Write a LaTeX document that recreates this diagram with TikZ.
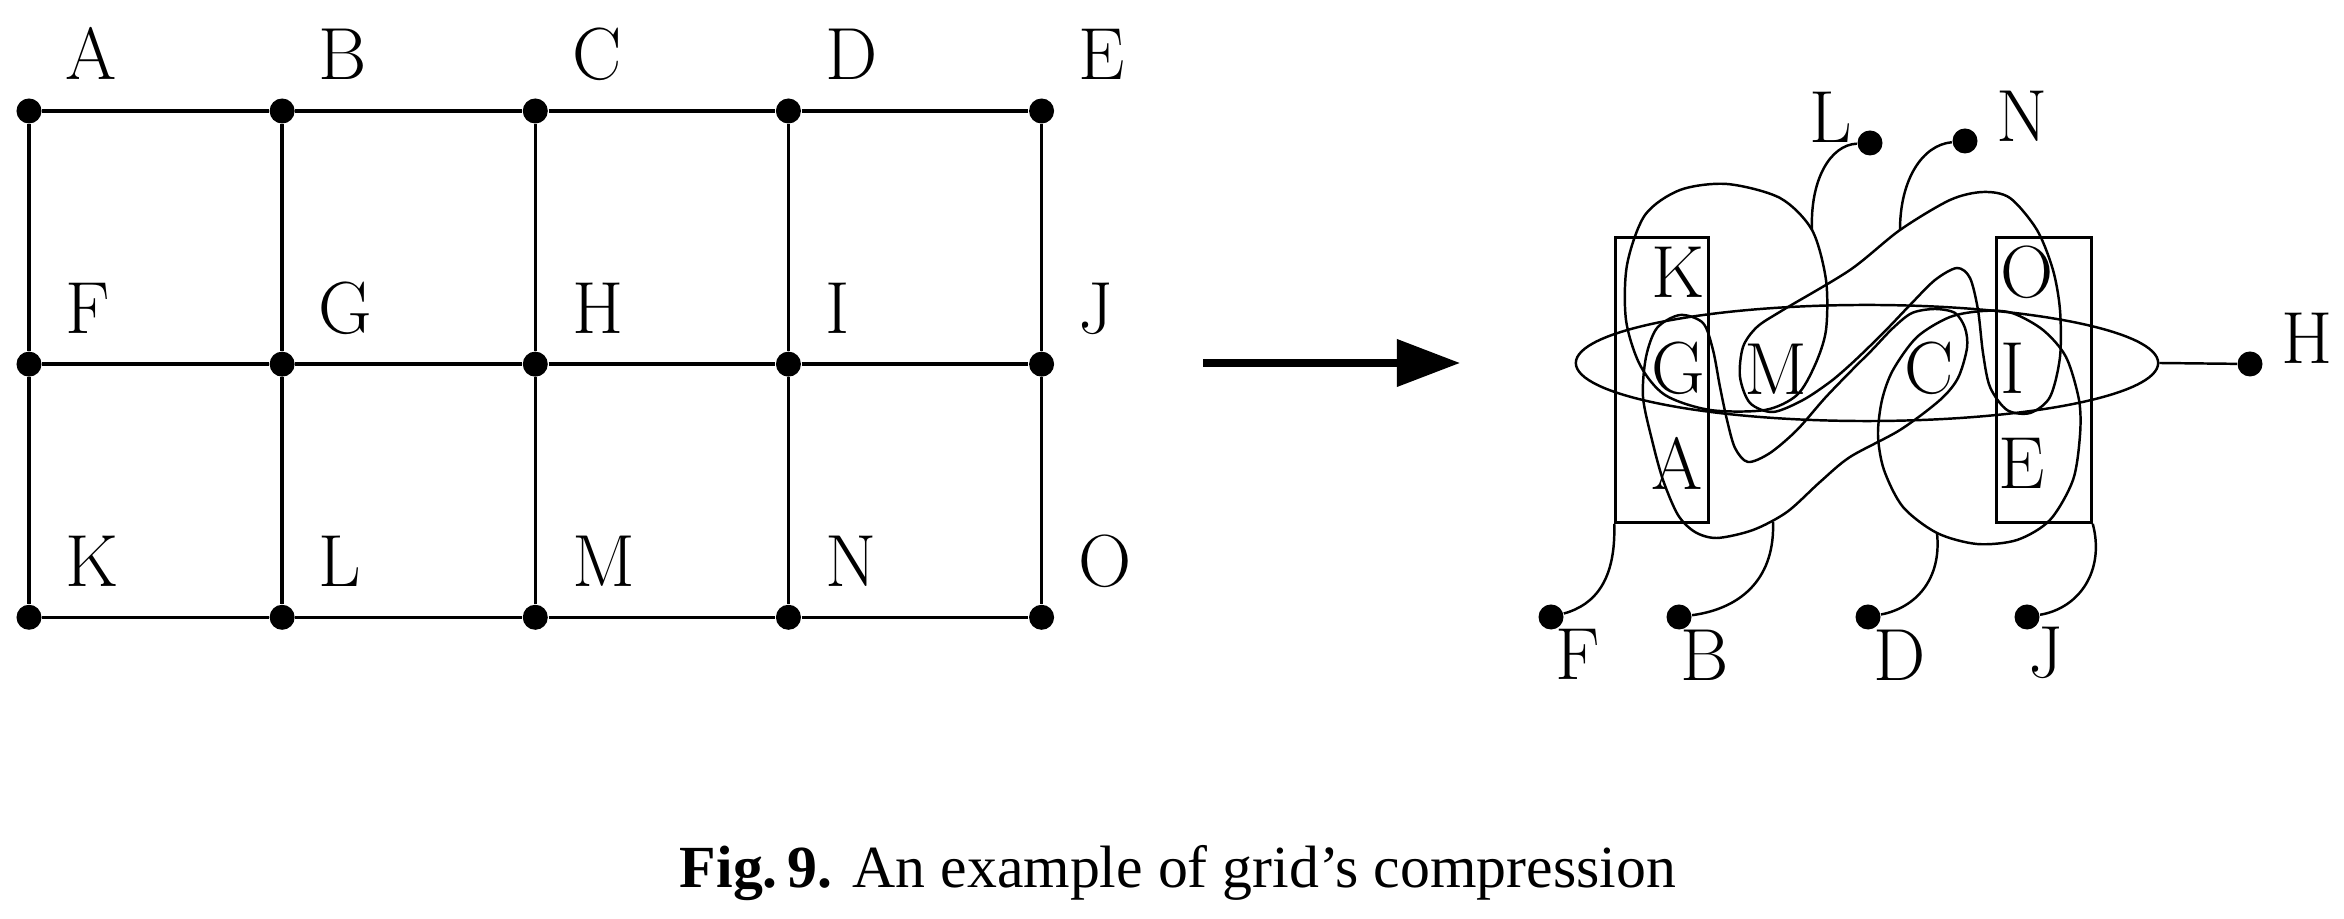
\documentclass[tikz,border=0pt]{standalone}
\usepackage{fontspec}
\newfontfamily\capfont{Liberation Serif}
\usetikzlibrary{positioning,arrows.meta,shapes.geometric}

\begin{document}
\begin{tikzpicture}[x=0.01cm,y=-0.01cm,node distance=2.53cm,on grid,
  dot/.style={circle,fill,inner sep=0pt,minimum size=0.25cm},
  lab/.style={font=\fontsize{21}{25}\selectfont,inner sep=0pt},
  glab/.style={lab,anchor=base west},
  gridline/.style={line width=1pt},
  wire/.style={line width=0.7pt},
  bigarrow/.style={line width=2pt,-{Triangle[length=6.3mm,width=4.6mm]}}]
  \useasboundingbox (0,0) rectangle (2344,919);

  % --- Grid nodes placed relative to each other ---
  \node[dot] (A) at (29,111) {};
  \node[dot] (B) [right=of A] {};
  \node[dot] (C) [right=of B] {};
  \node[dot] (D) [right=of C] {};
  \node[dot] (E) [right=of D] {};
  \node[dot] (F) [below=of A] {};
  \node[dot] (G) [right=of F] {};
  \node[dot] (H) [right=of G] {};
  \node[dot] (I) [right=of H] {};
  \node[dot] (J) [right=of I] {};
  \node[dot] (K) [below=of F] {};
  \node[dot] (L) [right=of K] {};
  \node[dot] (M) [right=of L] {};
  \node[dot] (N) [right=of M] {};
  \node[dot] (O) [right=of N] {};

  % --- Grid labels ---
  \node[glab] (tA) at ([shift={(36,-31)}]A) {A};
  \node[glab] (tB) at ([shift={(36,-31)}]B) {B};
  \node[glab] (tC) at ([shift={(36,-31)}]C) {C};
  \node[glab] (tD) at ([shift={(36,-31)}]D) {D};
  \node[glab] (tE) at ([shift={(36,-31)}]E) {E};
  \node[glab] (tF) at ([shift={(36,-31)}]F) {F};
  \node[glab] (tG) at ([shift={(36,-31)}]G) {G};
  \node[glab] (tH) at ([shift={(36,-31)}]H) {H};
  \node[glab] (tI) at ([shift={(36,-31)}]I) {I};
  \node[glab] (tJ) at ([shift={(36,-31)}]J) {J};
  \node[glab] (tK) at ([shift={(36,-31)}]K) {K};
  \node[glab] (tL) at ([shift={(36,-31)}]L) {L};
  \node[glab] (tM) at ([shift={(36,-31)}]M) {M};
  \node[glab] (tN) at ([shift={(36,-31)}]N) {N};
  \node[glab] (tO) at ([shift={(36,-31)}]O) {O};

  % --- Grid edges ---
  \draw[gridline] (A) -- (B) -- (C) -- (D) -- (E);
  \draw[gridline] (F) -- (G) -- (H) -- (I) -- (J);
  \draw[gridline] (K) -- (L) -- (M) -- (N) -- (O);
  \draw[gridline] (A) -- (F) -- (K);
  \draw[gridline] (B) -- (G) -- (L);
  \draw[gridline] (C) -- (H) -- (M);
  \draw[gridline] (D) -- (I) -- (N);
  \draw[gridline] (E) -- (J) -- (O);

  % --- Arrow ---
  \coordinate (arrS) at (1203,363);
  \coordinate (arrE) at (1460,363);
  \draw[bigarrow] (arrS) -- (arrE);

  % --- Compressed grid: kept vertices ---
  \node[lab] (kK) at (1678,272) {K};
  \node[lab] (kG) at (1678,368) {G};
  \node[lab] (kA) at (1677,463) {A};
  \node[lab] (kM) at (1776,369) {M};
  \node[lab] (kC) at (1929,368) {C};
  \node[lab] (kO) at (2027,272) {O};
  \node[lab] (kI) at (2013,368) {I};
  \node[lab] (kE) at (2022,463) {E};

  % --- Hyperedges F, J, H ---
  \node[draw,wire,inner sep=0pt,minimum width=0.93cm,minimum height=2.85cm] (boxF) at (1662,380) {};
  \node[draw,wire,inner sep=0pt,minimum width=0.95cm,minimum height=2.85cm] (boxJ) at (2044,380) {};
  \node[draw,wire,ellipse,inner sep=0pt,minimum width=5.82cm,minimum height=1.16cm] (ringH) at (1867,363) {};

  % --- Hyperedges L, N, B, D ---
  \draw[wire] plot[smooth cycle] coordinates {(1727,184) (1780,198) (1812,230)
    (1826,280) (1826,330) (1815,365) (1797,395) (1765,410) (1710,410)
    (1665,395) (1640,365) (1626,320) (1627,265) (1645,215) (1680,190)};
  \draw[wire] plot[smooth cycle] coordinates {(1757,327) (1743,347) (1740,377)
    (1750,403) (1773,412) (1803,400) (1830,382) (1850,365) (1870,346)
    (1890,326) (1910,305) (1935,280) (1957,268) (1970,278) (1978,310)
    (1983,353) (1990,387) (2007,410) (2030,413) (2050,397) (2060,357)
    (2060,310) (2053,270) (2037,230) (2010,198) (1983,192) (1950,200)
    (1900,230) (1850,270) (1783,310)};
  \draw[wire] plot[smooth cycle] coordinates {(1680,315) (1703,323) (1713,350)
    (1720,387) (1727,420) (1735,448) (1748,462) (1770,453) (1797,430)
    (1825,398) (1852,370) (1872,350) (1893,328) (1912,313) (1935,309)
    (1955,313) (1965,328) (1967,348) (1958,378) (1940,400) (1900,430)
    (1850,457) (1820,482) (1787,512) (1753,530) (1717,538) (1695,532)
    (1678,515) (1663,480) (1652,440) (1643,397) (1646,357) (1657,328)};
  \draw[wire] plot[smooth cycle] coordinates {(1882,400) (1893,370) (1917,337)
    (1950,317) (1983,311) (2012,313) (2043,330) (2066,357) (2079,400)
    (2080,435) (2073,480) (2050,520) (2017,540) (1977,544) (1937,533)
    (1903,507) (1884,470) (1878,435)};

  % --- Hyperedge dots and labels ---
  \node[dot] (hL) at (1870,143) {};
  \node[dot] (hN) at (1965,141) {};
  \node[dot] (hH) at (2250,364) {};
  \node[dot] (hF) at (1551,617) {};
  \node[dot] (hB) at (1679,617) {};
  \node[dot] (hD) at (1868,617) {};
  \node[dot] (hJ) at (2027,617) {};
  \node[lab] (hLt) at (1831,117) {L};
  \node[lab] (hNt) at (2022,116) {N};
  \node[lab] (hHt) at (2307,338) {H};
  \node[lab] (hFt) at (1578,654) {F};
  \node[lab] (hBt) at (1705,655) {B};
  \node[lab] (hDt) at (1900,655) {D};
  \node[lab] (hJt) at (2046,653) {J};

  % --- Connectors ---
  \coordinate (onL) at (1812,230);
  \coordinate (onN) at (1900,230);
  \coordinate (onB) at (1773,522);
  \coordinate (onD) at (1937,533);
  \draw[wire] (hL) .. controls (1830,145) and (1810,180) .. (onL);
  \draw[wire] (hN) .. controls (1922,145) and (1900,180) .. (onN);
  \draw[wire] (ringH.east) -- (hH);
  \draw[wire] (boxF.south west) .. controls (1616,580) and (1595,605) .. (hF);
  \draw[wire] (onB) .. controls (1775,575) and (1745,608) .. (hB);
  \draw[wire] (onD) .. controls (1942,580) and (1915,608) .. (hD);
  \draw[wire] (boxJ.south east) .. controls (2105,570) and (2080,608) .. (hJ);

  % --- Caption ---
  \node[font=\capfont\fontsize{17}{20}\selectfont,anchor=base,inner sep=0pt] (capt) at (1178,888)
    {\textbf{Fig.\,9.} An example of grid’s compression};
\end{tikzpicture}
\end{document}
